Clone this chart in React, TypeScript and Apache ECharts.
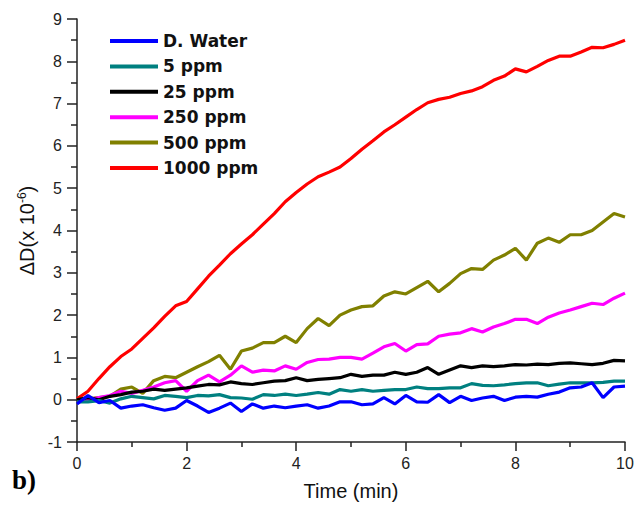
import React, { useEffect, useRef } from "react";
import * as echarts from "echarts";

const times = [
  0, 0.2, 0.4, 0.6, 0.8, 1.0, 1.2, 1.4, 1.6, 1.8, 2.0, 2.2, 2.4, 2.6, 2.8, 3.0, 3.2, 3.4, 3.6, 3.8,
  4.0, 4.2, 4.4, 4.6, 4.8, 5.0, 5.2, 5.4, 5.6, 5.8, 6.0, 6.2, 6.4, 6.6, 6.8, 7.0, 7.2, 7.4, 7.6, 7.8,
  8.0, 8.2, 8.4, 8.6, 8.8, 9.0, 9.2, 9.4, 9.6, 9.8, 10.0,
];

const seriesNames = ["D. Water", "5 ppm", "25 ppm", "250 ppm", "500 ppm", "1000 ppm"];
const seriesColors = ["#0000ff", "#008080", "#000000", "#ff00ff", "#808000", "#ff0000"];

const water = [
  -0.1, 0.1, -0.07, -0.02, -0.2, -0.15, -0.12, -0.19, -0.25, -0.2, -0.02, -0.15, -0.3, -0.2, -0.08, -0.28, -0.1, -0.2, -0.15, -0.19,
  -0.15, -0.12, -0.2, -0.15, -0.05, -0.05, -0.12, -0.1, 0.05, -0.1, 0.1, -0.05, -0.06, 0.12, -0.07, 0.08, -0.02, 0.04, 0.08, -0.02,
  0.06, 0.08, 0.06, 0.13, 0.18, 0.28, 0.3, 0.4, 0.05, 0.3, 0.32,
];
const ppm5 = [
  -0.05, -0.05, -0.02, -0.08, 0.02, 0.08, 0.05, 0.02, 0.1, 0.08, 0.05, 0.1, 0.09, 0.12, 0.05, 0.04, 0.01, 0.12, 0.1, 0.13,
  0.1, 0.13, 0.17, 0.13, 0.24, 0.2, 0.24, 0.2, 0.22, 0.24, 0.24, 0.3, 0.26, 0.26, 0.28, 0.28, 0.38, 0.34, 0.33, 0.35,
  0.38, 0.4, 0.4, 0.33, 0.37, 0.4, 0.4, 0.4, 0.41, 0.44, 0.44,
];
const ppm25 = [
  0.0, 0.05, 0.0, 0.08, 0.12, 0.18, 0.2, 0.25, 0.22, 0.25, 0.28, 0.32, 0.36, 0.35, 0.42, 0.38, 0.36, 0.4, 0.44, 0.45,
  0.52, 0.45, 0.48, 0.5, 0.52, 0.6, 0.55, 0.58, 0.58, 0.65, 0.6, 0.65, 0.76, 0.6, 0.7, 0.8, 0.76, 0.8, 0.78, 0.8,
  0.83, 0.82, 0.84, 0.83, 0.86, 0.87, 0.85, 0.83, 0.86, 0.93, 0.92,
];
const ppm250 = [
  0.0, 0.0, 0.05, 0.1, 0.2, 0.15, 0.22, 0.3, 0.4, 0.45, 0.2, 0.45, 0.58, 0.42, 0.58, 0.8, 0.65, 0.7, 0.68, 0.8,
  0.72, 0.88, 0.95, 0.96, 1.0, 1.0, 0.96, 1.1, 1.25, 1.33, 1.15, 1.3, 1.32, 1.5, 1.55, 1.58, 1.68, 1.6, 1.72, 1.8,
  1.9, 1.9, 1.8, 1.95, 2.05, 2.12, 2.2, 2.28, 2.25, 2.4, 2.52,
];
const ppm500 = [
  0.0, 0.02, 0.05, 0.08, 0.25, 0.3, 0.15, 0.45, 0.55, 0.52, 0.65, 0.78, 0.9, 1.05, 0.72, 1.15, 1.22, 1.35, 1.35, 1.5,
  1.35, 1.68, 1.92, 1.75, 2.0, 2.12, 2.2, 2.22, 2.45, 2.55, 2.5, 2.65, 2.8, 2.55, 2.75, 2.98, 3.1, 3.08, 3.3, 3.42,
  3.58, 3.3, 3.7, 3.82, 3.72, 3.9, 3.9, 4.0, 4.2, 4.4, 4.32,
];
const ppm1000 = [
  0.02, 0.2, 0.5, 0.78, 1.02, 1.2, 1.45, 1.7, 1.97, 2.22, 2.32, 2.62, 2.92, 3.18, 3.45, 3.68, 3.9, 4.15, 4.4, 4.68,
  4.9, 5.1, 5.27, 5.38, 5.5, 5.7, 5.92, 6.12, 6.33, 6.5, 6.68, 6.86, 7.02, 7.1, 7.15, 7.24, 7.3, 7.4, 7.55, 7.65,
  7.82, 7.75, 7.88, 8.02, 8.12, 8.12, 8.22, 8.33, 8.32, 8.4, 8.5,
];

const allValues = [water, ppm5, ppm25, ppm250, ppm500, ppm1000];

export default function App() {
  const ref = useRef<HTMLDivElement>(null);
  useEffect(() => {
    if (!ref.current) return;
    const chart = echarts.init(ref.current, undefined, { renderer: "svg" });
    const axisColor = "#222";
    chart.setOption({
      animation: false,
      backgroundColor: "#fff",
      grid: { left: 77, right: 10, top: 19, bottom: 63, containLabel: false, outerBoundsMode: "none" },
      legend: {
        orient: "vertical",
        left: 110,
        top: 31,
        padding: 0,
        icon: "rect",
        itemWidth: 48,
        itemHeight: 4,
        itemGap: 5.4,
        data: seriesNames,
        textStyle: {
          fontFamily: "DejaVu Sans",
          fontWeight: "bold",
          fontSize: 17,
          color: "#111",
          lineHeight: 20,
        },
      },
      xAxis: {
        type: "value",
        min: 0,
        max: 10,
        interval: 2,
        name: "Time (min)",
        nameLocation: "middle",
        nameGap: 39,
        nameTextStyle: { fontFamily: "Liberation Sans", fontSize: 20, color: "#111" },
        axisLine: { show: true, onZero: false, lineStyle: { color: axisColor, width: 1.5 } },
        axisTick: { show: true, length: 9, lineStyle: { color: axisColor, width: 1.5 } },
        minorTick: { show: true, splitNumber: 2, length: 5, lineStyle: { color: axisColor, width: 1.5 } },
        splitLine: { show: false },
        axisLabel: { margin: 13, fontFamily: "Liberation Sans", fontSize: 16, color: "#222" },
      },
      yAxis: {
        type: "value",
        min: -1,
        max: 9,
        interval: 1,
        name: "{a|ΔD(x 10}{s|-6}{a|)}",
        nameLocation: "middle",
        nameRotate: 90,
        nameGap: 39,
        nameTextStyle: {
          rich: {
            a: { fontFamily: "Liberation Sans", fontSize: 20, color: "#111" },
            s: { fontFamily: "Liberation Sans", fontSize: 12, color: "#111", padding: [0, 0, 10, 0] },
          },
        },
        axisLine: { show: true, onZero: false, lineStyle: { color: axisColor, width: 1.5 } },
        axisTick: { show: true, length: 10, lineStyle: { color: axisColor, width: 1.5 } },
        minorTick: { show: true, splitNumber: 2, length: 6, lineStyle: { color: axisColor, width: 1.5 } },
        splitLine: { show: false },
        axisLabel: { margin: 15, fontFamily: "Liberation Sans", fontSize: 16, color: "#222" },
      },
      graphic: [
        {
          type: "text",
          left: 12,
          top: 466,
          style: {
            text: "b)",
            font: "bold 27px 'Liberation Serif'",
            fill: "#000",
          },
        },
      ],
      series: seriesNames.map((name, i) => ({
        name,
        type: "line",
        showSymbol: false,
        symbol: "none",
        color: seriesColors[i],
        lineStyle: { width: 3.2, color: seriesColors[i] },
        data: times.map((t, j) => [t, allValues[i][j]]),
        z: 2 + (5 - i),
      })),
    });
    return () => chart.dispose();
  }, []);
  return (
    <div
      ref={ref}
      style={{ position: "absolute", left: 0, top: 0, width: 635, height: 505 }}
    />
  );
}
